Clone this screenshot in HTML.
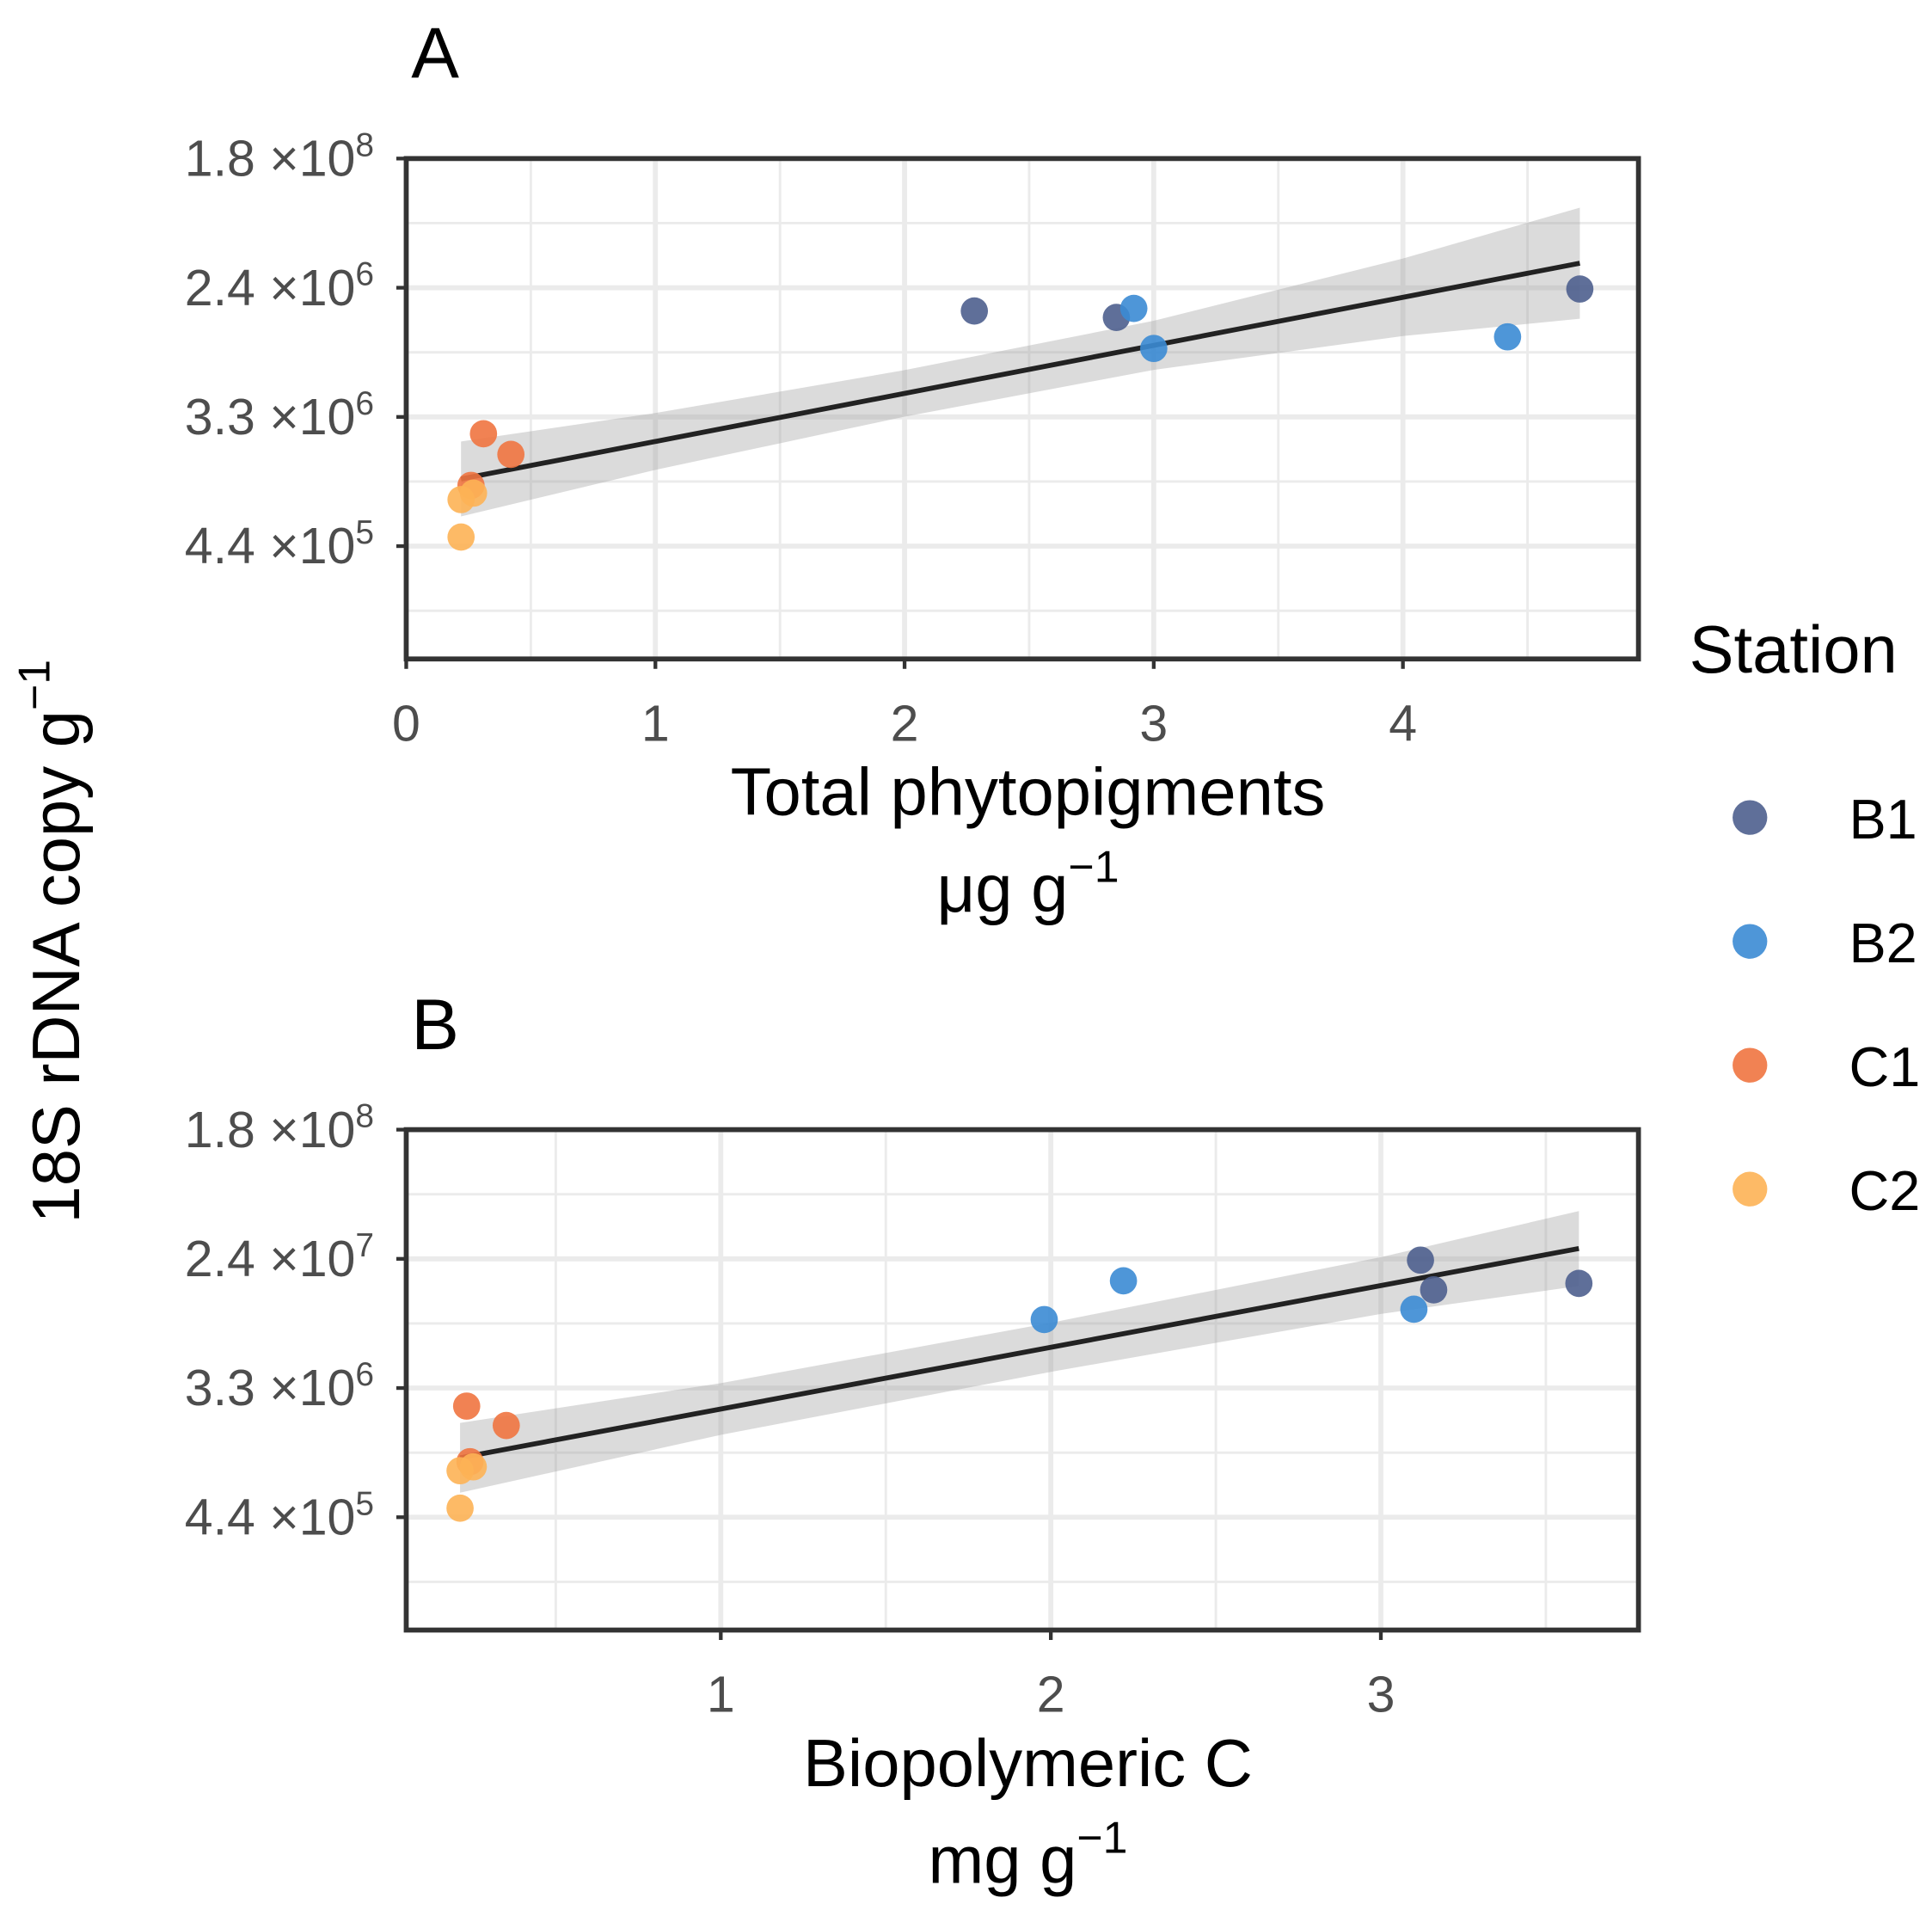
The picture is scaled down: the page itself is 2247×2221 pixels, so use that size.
<!DOCTYPE html>
<html><head><meta charset="utf-8"><style>body{margin:0;background:#fff}svg{display:block}text{font-family:"Liberation Sans",sans-serif}</style></head>
<body>
<svg id="chart" width="2247" height="2221" viewBox="0 0 1560 1542" xmlns="http://www.w3.org/2000/svg"></svg>
<script>
const yTickLabels = [["1.8","8"],["2.4","6"],["3.3","6"],["4.4","5"]];
const yTickLabelsB = [["1.8","8"],["2.4","7"],["3.3","6"],["4.4","5"]];
const stations = ["B1","B2","C1","C2"];
const colors = {B1:"#4e5f8e",B2:"#3b8bd4",C1:"#ef7440",C2:"#fdb255"};
// Panel A
const aX_B1=[2.28,2.85,4.71], aY_B1=[1.18,1.23,1.01];
const aX_B2=[2.92,3.00,4.42], aY_B2=[1.16,1.47,1.38];
const aX_C1=[0.31,0.42,0.26], aY_C1=[2.13,2.29,2.53];
const aX_C2=[0.22,0.27,0.22], aY_C2=[2.64,2.59,2.93];
const aFitX=[0.22,4.71], aFitY=[2.48,0.81];
const aBandX=[0.22,1,2,3,4,4.71], aBandHW=[0.29,0.22,0.18,0.19,0.3,0.43];
const aXTicks=[0,1,2,3,4];
// Panel B
const bX_B1=[3.12,3.16,3.60], bY_B1=[1.01,1.24,1.19];
const bX_B2=[2.22,1.98,3.10], bY_B2=[1.17,1.47,1.39];
const bX_C1=[0.23,0.35,0.24], bY_C1=[2.14,2.29,2.57];
const bX_C2=[0.21,0.25,0.21], bY_C2=[2.64,2.61,2.93];
const bFitX=[0.21,3.60], bFitY=[2.54,0.92];
const bBandX=[0.21,1,2,3,3.6], bBandHW=[0.27,0.2,0.19,0.22,0.29];
const bXTicks=[1,2,3];

const svg=document.getElementById('chart');
const NS="http://www.w3.org/2000/svg";
function mk(tag,attrs,parent){const e=document.createElementNS(NS,tag);for(const k in attrs)e.setAttribute(k,attrs[k]);(parent||svg).appendChild(e);return e;}

function panel(cfg){
  const g=mk('g',{});
  
  
  const L=328,R=1323,T=cfg.top,B=cfg.top+404;
  const sx=v=>cfg.x0+v*cfg.xs, sy=v=>T+v*104.3;
  for(let i=0;i<4;i++){const y=sy(i+0.5);const l=mk('line',{x1:L,x2:R,y1:y,y2:y,stroke:'#ebebeb','stroke-width':2},g);}
  cfg.minorX.forEach(v=>{const x=sx(v);const l=mk('line',{x1:x,x2:x,y1:T,y2:B,stroke:'#ebebeb','stroke-width':2},g);});
  for(let i=0;i<4;i++){const y=sy(i);const l=mk('line',{x1:L,x2:R,y1:y,y2:y,stroke:'#ebebeb','stroke-width':4},g);}
  cfg.xticks.forEach(v=>{const x=sx(v);const l=mk('line',{x1:x,x2:x,y1:T,y2:B,stroke:'#ebebeb','stroke-width':4},g);});
  let up=[],lo=[];
  cfg.bandX.forEach((v,i)=>{const c=cfg.fitY[0]+(cfg.fitY[1]-cfg.fitY[0])*(v-cfg.fitX[0])/(cfg.fitX[1]-cfg.fitX[0]);up.push(sx(v)+','+sy(c-cfg.bandHW[i]));lo.unshift(sx(v)+','+sy(c+cfg.bandHW[i]));});
  const band=mk('polygon',{points:up.concat(lo).join(' '),fill:'#999',opacity:0.35},g);
  
  
  const fl=mk('line',{x1:sx(cfg.fitX[0]),y1:sy(cfg.fitY[0]),x2:sx(cfg.fitX[1]),y2:sy(cfg.fitY[1]),stroke:'#222','stroke-width':4},g);
  
  
  cfg.series.forEach(s=>{s.xs.forEach((v,i)=>{const c=mk('circle',{cx:sx(v),cy:sy(s.ys[i]),r:11,fill:colors[s.st],opacity:0.9},g);});});
  const box=mk('rect',{x:L,y:T,width:R-L,height:B-T,fill:'none',stroke:'#333','stroke-width':4},g);
  
  
  cfg.ylabels.forEach((lab,i)=>{const y=sy(i);mk('line',{x1:L-8,x2:L,y1:y,y2:y,stroke:'#333','stroke-width':3},g);
    const t=mk('text',{x:302,y:y+14,'text-anchor':'end','font-size':41,fill:'#4d4d4d'},g);
    
    
    t.innerHTML=lab[0]+' ×10<tspan dy="-16" font-size="27">'+lab[1]+'</tspan>';});
  cfg.xticks.forEach(v=>{const x=sx(v);mk('line',{x1:x,x2:x,y1:B,y2:B+8,stroke:'#333','stroke-width':3},g);
    const t=mk('text',{x:x,y:B+66,'text-anchor':'middle','font-size':41,fill:'#4d4d4d'},g);
    
    
    t.textContent=v;});
  const tl=mk('text',{x:332,y:T-65,'font-size':58,fill:'#000'},g);
  
  
  tl.textContent=cfg.label;
  const xt=mk('text',{x:830,y:B+126,'text-anchor':'middle','font-size':54,fill:'#000'},g);
  
  
  xt.textContent=cfg.xtitle;
  const xu=mk('text',{x:830,y:B+204,'text-anchor':'middle','font-size':54,fill:'#000'},g);
  
  
  xu.innerHTML=cfg.unit+' g<tspan dy="-24" font-size="36">−1</tspan>';
}
panel({name:'panel-a',top:128,x0:328,xs:201.2,xticks:aXTicks,minorX:[0.5,1.5,2.5,3.5,4.5],ylabels:yTickLabels,
  fitX:aFitX,fitY:aFitY,bandX:aBandX,bandHW:aBandHW,label:'A',xtitle:'Total phytopigments',unit:'μg',
  series:[{st:'B1',xs:aX_B1,ys:aY_B1},{st:'B2',xs:aX_B2,ys:aY_B2},{st:'C1',xs:aX_C1,ys:aY_C1},{st:'C2',xs:aX_C2,ys:aY_C2}]});
panel({name:'panel-b',top:912,x0:315.5,xs:266.5,xticks:bXTicks,minorX:[0.5,1.5,2.5,3.5],ylabels:yTickLabelsB,
  fitX:bFitX,fitY:bFitY,bandX:bBandX,bandHW:bBandHW,label:'B',xtitle:'Biopolymeric C',unit:'mg',
  series:[{st:'B1',xs:bX_B1,ys:bY_B1},{st:'B2',xs:bX_B2,ys:bY_B2},{st:'C1',xs:bX_C1,ys:bY_C1},{st:'C2',xs:bX_C2,ys:bY_C2}]});
const yt=mk('text',{x:0,y:0,'text-anchor':'middle','font-size':54,fill:'#000',transform:'translate(64,760) rotate(-90)'});


yt.innerHTML='18S rDNA copy g<tspan dy="-24" font-size="36">−1</tspan>';
const lt=mk('text',{x:1364,y:543,'font-size':54,fill:'#000'});


lt.textContent='Station';
stations.forEach((s,i)=>{const y=660+i*100;
  const c=mk('circle',{cx:1413,cy:y,r:14,fill:colors[s],opacity:0.9});
  
  
  const t=mk('text',{x:1493,y:y+17,'font-size':45,fill:'#000'});
  
  
  t.textContent=s;});
</script>
</body></html>
